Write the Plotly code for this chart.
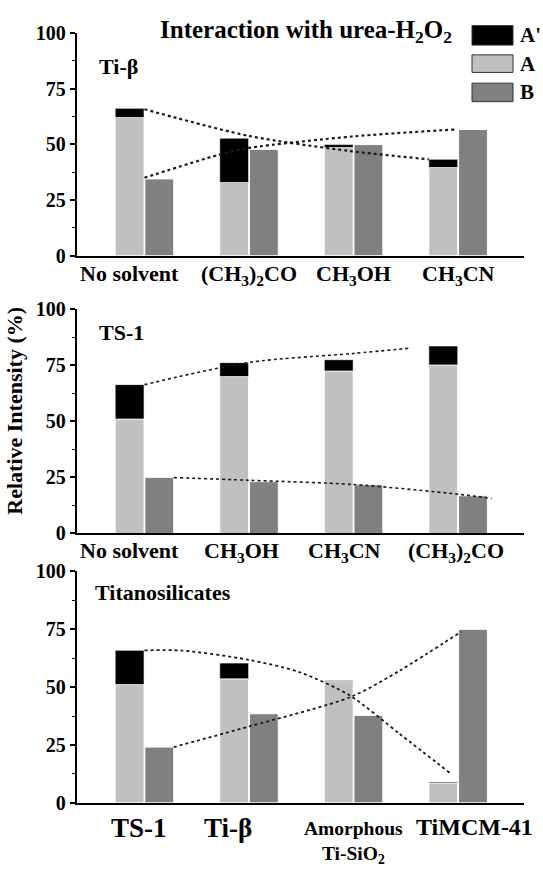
import plotly.graph_objects as go

# ---------------- data ----------------
top_cats = ["No solvent", "(CH<sub>3</sub>)<sub>2</sub>CO", "CH<sub>3</sub>OH", "CH<sub>3</sub>CN"]
top_A = [62.1, 32.9, 48.6, 39.6]
top_Aprime = [4.1, 19.9, 1.3, 3.7]
top_B = [34.5, 47.8, 49.9, 56.7]
top_trend1_x = [0, 1, 1.97, 2.72]
top_trend1_y = [65.8, 53.8, 47.0, 43.3]
top_trend2_x = [0, 0.7, 1, 2, 2.97]
top_trend2_y = [35.0, 45.2, 48.4, 53.6, 56.7]

mid_cats = ["No solvent", "CH<sub>3</sub>OH", "CH<sub>3</sub>CN", "(CH<sub>3</sub>)<sub>2</sub>CO"]
mid_A = [51.0, 69.9, 72.4, 75.1]
mid_Aprime = [15.3, 6.2, 5.0, 8.4]
mid_B = [25.0, 23.1, 21.7, 16.8]
mid_trend1_x = [0, 1, 2, 2.55]
mid_trend1_y = [66.3, 76.2, 80.2, 82.6]
mid_trend2_x = [0.28, 1, 2, 3, 3.32]
mid_trend2_y = [24.9, 23.7, 21.8, 17.5, 15.6]

bot_cats = ["TS-1", "Ti-β", "Amorphous<br>Ti-SiO<sub>2</sub>", "TiMCM-41"]
bot_A = [51.1, 53.6, 52.4, 8.6]
bot_Aprime = [14.8, 6.8, 0.5, 0.4]
bot_B = [24.1, 38.5, 37.8, 75.0]
bot_trend1_x = [0, 0.36, 1, 1.48, 1.96, 2.44, 2.93]
bot_trend1_y = [65.9, 65.8, 61.8, 56.5, 46.5, 29.8, 12.6]
bot_trend2_x = [0.28, 1, 1.98, 2.44, 3.03]
bot_trend2_y = [24.1, 33.0, 45.9, 57.1, 74.0]

y_ticks = [0, 25, 50, 75, 100]
y_minor = [12.5, 37.5, 62.5, 87.5]
legend_labels = ["A'", "A", "B"]

# ---------------- style ----------------
W, H = 543, 872
FONT = "Liberation Serif, Times New Roman, serif"
C_AP, C_A, C_B = "#000000", "#c0c0c0", "#808080"
OFF, BW = 0.142, 0.276


def px(x):
    return x / W


def py(y):
    return 1 - y / H


panels = [
    dict(cats=top_cats, A=top_A, Ap=top_Aprime, B=top_B,
         trends=[(top_trend1_x, top_trend1_y), (top_trend2_x, top_trend2_y)],
         ypix=(22.7, 251.0), lab_size=[22, 22, 22, 22], xshift=[-15, 0, 0, 0],
         yshift=[-3, -3, -3, -3], lw=2.2),
    dict(cats=mid_cats, A=mid_A, Ap=mid_Aprime, B=mid_B,
         trends=[(mid_trend1_x, mid_trend1_y), (mid_trend2_x, mid_trend2_y)],
         ypix=(305.7, 536.0), lab_size=[22, 22, 22, 22], xshift=[-15, -8, -9, -2],
         yshift=[-3, -3, -3, -3], lw=1.6),
    dict(cats=bot_cats, A=bot_A, Ap=bot_Aprime, B=bot_B,
         trends=[(bot_trend1_x, bot_trend1_y), (bot_trend2_x, bot_trend2_y)],
         ypix=(575.0, 812.3), lab_size=[27, 27, 19.5, 24], xshift=[-5, -21, 0, 16],
         yshift=[-8, -8, -13, -9], lw=1.8),
]

fig = go.Figure()
annotations = []
layout = {}

for n, p in enumerate(panels, start=1):
    xa = "x" if n == 1 else f"x{n}"
    ya = "y" if n == 1 else f"y{n}"
    idx = list(range(len(p["cats"])))
    fig.add_trace(go.Bar(x=[i - OFF for i in idx], y=p["A"], width=BW,
                         marker=dict(color=C_A, line=dict(color="white", width=1)),
                         xaxis=xa, yaxis=ya, showlegend=False))
    fig.add_trace(go.Bar(x=[i - OFF for i in idx], y=p["Ap"], base=p["A"], width=BW,
                         marker=dict(color=C_AP, line=dict(color="white", width=0.6)),
                         xaxis=xa, yaxis=ya, showlegend=False))
    fig.add_trace(go.Bar(x=[i + OFF for i in idx], y=p["B"], width=BW,
                         marker=dict(color=C_B, line=dict(color="white", width=1)),
                         xaxis=xa, yaxis=ya, showlegend=False))
    for tx, ty in p["trends"]:
        fig.add_trace(go.Scatter(x=tx, y=ty, mode="lines",
                                 line=dict(color="#1a1a1a", width=p["lw"], dash="dot",
                                           shape="spline", smoothing=0.8),
                                 xaxis=xa, yaxis=ya, showlegend=False, hoverinfo="skip"))
    top_px, bot_px = p["ypix"]
    layout["xaxis" if n == 1 else f"xaxis{n}"] = dict(
        domain=[px(76.5), px(524)], range=[-0.65, 3.63], anchor=ya,
        showline=True, linecolor="black", linewidth=1.6, showticklabels=False,
        ticks="", showgrid=False, zeroline=False)
    layout["yaxis" if n == 1 else f"yaxis{n}"] = dict(
        domain=[py(bot_px), py(top_px)], range=[0, 100], anchor=xa,
        tickvals=y_ticks, ticks="outside", ticklen=5, tickwidth=1.5,
        tickcolor="black", showline=True, linecolor="black", linewidth=1.6,
        minor=dict(tickvals=y_minor, ticks="outside", ticklen=3, tickwidth=1.2,
                   tickcolor="black"),
        showgrid=False, zeroline=False,
        tickfont=dict(family=FONT, size=20, color="black", weight="bold"))
    for i, lab in enumerate(p["cats"]):
        annotations.append(dict(x=i, y=0, xref=xa, yref=ya, text=lab, showarrow=False,
                                xanchor="center", yanchor="top", yshift=p["yshift"][i],
                                xshift=p["xshift"][i],
                                font=dict(family=FONT, size=p["lab_size"][i], color="black",
                                          weight="bold")))

# panel labels
for text, x, y in [("Ti-β", 97, 57), ("TS-1", 97, 330), ("Titanosilicates", 93, 597)]:
    annotations.append(dict(x=px(x), y=py(y), xref="paper", yref="paper", text=text,
                            showarrow=False, xanchor="left", yanchor="middle",
                            font=dict(family=FONT, size=22, color="black", weight="bold")))

# title
annotations.append(dict(x=px(306), y=py(21), xref="paper", yref="paper",
                        text="Interaction with urea-H<sub>2</sub>O<sub>2</sub>",
                        showarrow=False, xanchor="center", yanchor="middle",
                        font=dict(family=FONT, size=25, color="black", weight="bold")))

# y title
annotations.append(dict(x=px(15), y=py(410), xref="paper", yref="paper",
                        text="Relative Intensity (%)", textangle=-90, showarrow=False,
                        xanchor="center", yanchor="middle",
                        font=dict(family=FONT, size=22, color="black", weight="bold")))

# legend (manual)
shapes = []
leg_boxes = [(15, 35), (45, 63), (74, 93)]
leg_colors = [C_AP, C_A, C_B]
for (y0, y1), col, lab in zip(leg_boxes, leg_colors, legend_labels):
    shapes.append(dict(type="rect", xref="paper", yref="paper",
                       x0=px(472), x1=px(513), y0=py(y1), y1=py(y0),
                       fillcolor=col, line=dict(color="#333", width=1)))
    annotations.append(dict(x=px(518), y=py((y0 + y1) / 2), xref="paper", yref="paper",
                            text=lab, showarrow=False, xanchor="left", yanchor="middle",
                            font=dict(family=FONT, size=21, color="black", weight="bold")))

fig.update_layout(width=W, height=H, margin=dict(l=0, r=0, t=0, b=0),
                  paper_bgcolor="white", plot_bgcolor="white", barmode="overlay",
                  showlegend=False, annotations=annotations, shapes=shapes, **layout)

fig.write_html("out.html")
